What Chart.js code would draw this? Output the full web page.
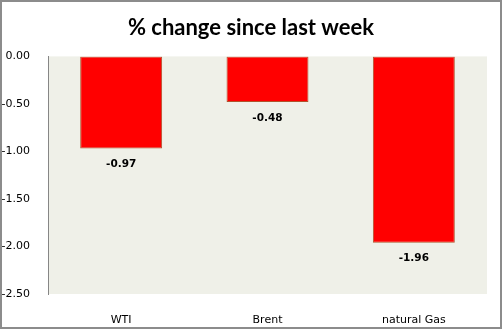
<!DOCTYPE html>
<html>
<head>
<meta charset="utf-8">
<script src="https://cdn.jsdelivr.net/npm/chart.js@4"></script>
<style>
  html, body { margin: 0; padding: 0; background: #fff; }
  #wrap { width: 502px; height: 329px; }
</style>
</head>
<body>
<div id="wrap"><canvas id="change-chart" width="502" height="329"></canvas></div>
<script>
const categories = ['WTI', 'Brent', 'natural Gas'];
const changes = [-0.97, -0.48, -1.96];
const yTicks = [0, -0.5, -1, -1.5, -2, -2.5];

const chartCanvas = document.querySelector('#change-chart');

// plot background + outer frame
const frame = {
    id: 'frame',
    beforeDraw(chart) {
        const { ctx, chartArea: a } = chart;
        ctx.save();
        ctx.fillStyle = '#eff0e8';
        ctx.fillRect(a.left, a.top, a.right - a.left, a.bottom - a.top);
        ctx.restore();
    },
    afterDraw(chart) {
        const ctx = chart.ctx;
        ctx.save();
        ctx.strokeStyle = '#8c8c8c';
        ctx.lineWidth = 2;
        ctx.strokeRect(1, 1, chart.width - 2, chart.height - 2);
        ctx.restore();
    }
};

// value labels under each bar
const valueLabels = {
    id: 'valueLabels',
    afterDatasetsDraw(chart) {
        const ctx = chart.ctx;
        const meta = chart.getDatasetMeta(0);
        ctx.save();
        ctx.font = 'bold 10.5px "DejaVu Sans"';
        ctx.fillStyle = '#000';
        ctx.textAlign = 'center';
        ctx.textBaseline = 'middle';
        meta.data.forEach((bar, i) => {
            ctx.fillText(changes[i].toFixed(2), bar.x, bar.y + 16);
        });
        ctx.restore();
    }
};

var changeChart = new Chart(chartCanvas, {
    type: 'bar',
    data: {
        labels: categories,
        datasets: [{
            data: changes,
            backgroundColor: '#ff0000',
            borderColor: '#b0532c',
            borderWidth: 1,
            borderSkipped: false,
            categoryPercentage: 1,
            barPercentage: 0.56
        }]
    },
    options: {
        responsive: false,
        animation: false,
        layout: { padding: 0 },
        plugins: {
            legend: { display: false },
            tooltip: { enabled: false },
            title: {
                display: true,
                text: '% change since last week',
                color: '#000',
                font: { family: 'Lato', size: 22, weight: 'bold' },
                padding: { top: 15, bottom: 15 }
            }
        },
        scales: {
            x: {
                grid: { display: false },
                border: { display: false },
                ticks: {
                    color: '#000',
                    font: { family: 'DejaVu Sans', size: 11 },
                    padding: 12
                },
                afterFit(scale) { scale.height = 35; }
            },
            y: {
                min: -2.5,
                max: 0,
                grid: { display: false },
                border: { display: true, color: '#868686', width: 1 },
                afterBuildTicks(scale) {
                    scale.ticks = yTicks.map(v => ({ value: v }));
                },
                ticks: {
                    color: '#000',
                    font: { family: 'DejaVu Sans', size: 11 },
                    padding: 10,
                    callback: v => v.toFixed(2)
                },
                afterFit(scale) { scale.width = 48; }
            },
            // empty right margin so the title stays centred on the canvas
            yRight: {
                position: 'right',
                min: -2.5,
                max: 0,
                grid: { display: false },
                border: { display: false },
                ticks: { display: false },
                afterFit(scale) { scale.width = 15; }
            }
        }
    },
    plugins: [frame, valueLabels]
});
</script>
</body>
</html>
